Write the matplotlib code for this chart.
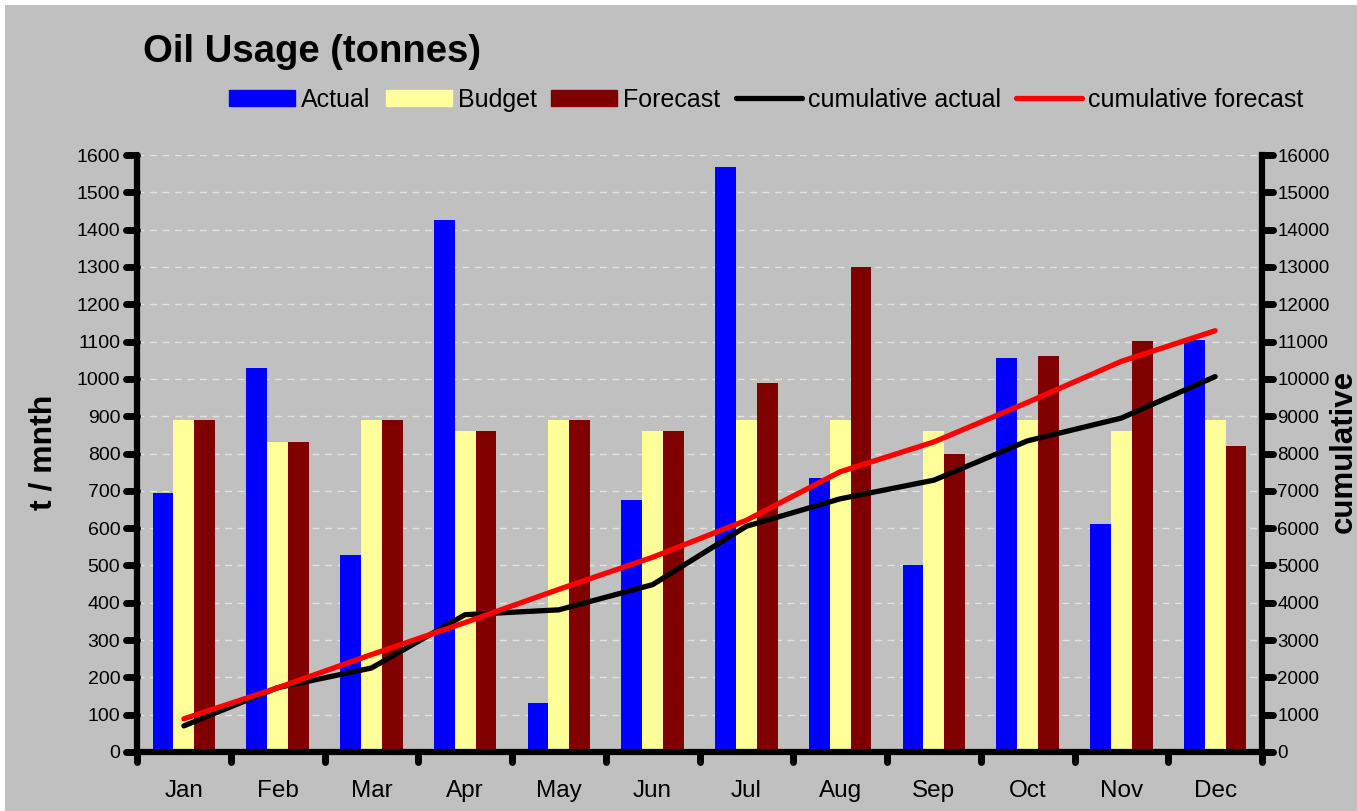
import numpy as np
import matplotlib.pyplot as plt
from matplotlib.patches import Rectangle, Patch
from matplotlib.lines import Line2D
from matplotlib.markers import MarkerStyle, TICKLEFT, TICKRIGHT, TICKDOWN

plt.rcParams['font.family'] = ['Liberation Sans', 'DejaVu Sans']

months = ['Jan', 'Feb', 'Mar', 'Apr', 'May', 'Jun', 'Jul', 'Aug', 'Sep', 'Oct', 'Nov', 'Dec']
actual = [695, 1030, 528, 1425, 130, 676, 1568, 735, 500, 1055, 612, 1105]
budget = [890, 830, 890, 860, 890, 860, 890, 890, 860, 890, 860, 890]
forecast = [890, 830, 890, 860, 890, 860, 990, 1300, 800, 1062, 1102, 820]
cum_actual = [700, 1725, 2250, 3680, 3810, 4485, 6050, 6785, 7285, 8340, 8950, 10060]
cum_forecast = [890, 1720, 2610, 3470, 4360, 5220, 6210, 7510, 8310, 9370, 10470, 11290]

W, H = 1357, 811
fig = plt.figure(figsize=(W / 100, H / 100), dpi=100)
fig.patch.set_facecolor('white')
fig.patches.append(Rectangle((5 / W, 0), 1, 1 - 5 / H, transform=fig.transFigure,
                             facecolor='#c0c0c0', edgecolor='none', zorder=-10))

ax = fig.add_axes([137 / W, 1 - 752 / H, (1262 - 137) / W, (752 - 155) / H])
ax.set_facecolor('none')

x = np.arange(len(months))
w = 0.222
ax.bar(x - w, actual, w, color='#0000ff', label='Actual')
ax.bar(x, budget, w, color='#ffff99', label='Budget')
ax.bar(x + w, forecast, w, color='#800000', label='Forecast')

ax.set_xlim(-0.5, 11.5)
ax.set_ylim(0, 1600)
ax.set_yticks(range(0, 1601, 100))
ax.yaxis.grid(True, color='#e2e2e2', ls=(0, (5, 4)), lw=1)
ax.set_axisbelow(True)

ax.set_xticks(x)
ax.set_xticklabels(months, fontsize=17.5)
ax.set_xticks(np.arange(-0.5, 12, 1), minor=True)
ax.tick_params(axis='x', which='major', length=0, pad=20)
ax.tick_params(axis='x', which='minor', direction='out', length=7, width=5)
ax.tick_params(axis='y', direction='out', length=8, width=5, labelsize=14, pad=4)

for s in ['top', 'right']:
    ax.spines[s].set_visible(False)
for s in ['left', 'bottom']:
    ax.spines[s].set_linewidth(4.5)
    ax.spines[s].set_capstyle('round')

ax2 = ax.twinx()
ax2.plot(x, cum_actual, color='black', lw=3.8, solid_capstyle='round')
ax2.plot(x, cum_forecast, color='red', lw=3.8, solid_capstyle='round')
ax2.set_ylim(0, 16000)
ax2.set_yticks(range(0, 16001, 1000))
ax2.tick_params(axis='y', direction='out', length=8, width=5, labelsize=13.5, pad=3)
for s in ['top', 'left', 'bottom']:
    ax2.spines[s].set_visible(False)
ax2.spines['right'].set_linewidth(4.5)

# round tick ends like the original
for t in ax.yaxis.get_major_ticks():
    t.tick1line.set_marker(MarkerStyle(TICKLEFT, capstyle='round'))
for t in ax2.yaxis.get_major_ticks():
    t.tick2line.set_marker(MarkerStyle(TICKRIGHT, capstyle='round'))
for t in ax.xaxis.get_minor_ticks():
    t.tick1line.set_marker(MarkerStyle(TICKDOWN, capstyle='round'))

fig.text(43 / W, 1 - 452 / H, 't / mnth', fontsize=23, fontweight='bold',
         rotation=90, ha='center', va='center')
fig.text(1344 / W, 1 - 451 / H, 'cumulative', fontsize=22.5, fontweight='bold',
         rotation=90, ha='center', va='center')

fig.text(143 / W, 1 - 62 / H, 'Oil Usage (tonnes)', fontsize=27.5, fontweight='bold', va='baseline')

handles = [Patch(color='#0000ff'), Patch(color='#ffff99'), Patch(color='#800000'),
           Line2D([], [], color='black', lw=3.8, solid_capstyle='round'),
           Line2D([], [], color='red', lw=3.8, solid_capstyle='round')]
labels = ['Actual', 'Budget', 'Forecast', 'cumulative actual', 'cumulative forecast']
fig.legend(handles, labels, loc='center', bbox_to_anchor=(766 / W, 1 - 100 / H), ncol=5,
           frameon=False, fontsize=18, handlelength=2.64, handleheight=0.64,
           handletextpad=0.24, columnspacing=0.6, borderaxespad=0, borderpad=0)

fig.savefig('out.png', dpi=100, facecolor=fig.get_facecolor())
